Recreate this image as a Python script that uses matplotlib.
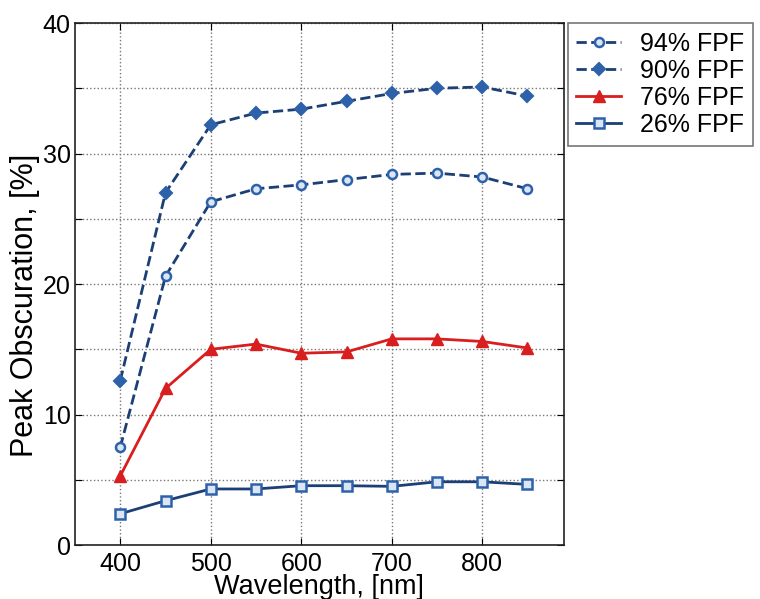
import numpy as np
import matplotlib.pyplot as plt

plt.rcParams['font.family'] = ['Liberation Sans', 'DejaVu Sans']

wavelength = [400, 450, 500, 550, 600, 650, 700, 750, 800, 850]
fpf94 = [7.5, 20.6, 26.3, 27.3, 27.6, 28.0, 28.4, 28.5, 28.2, 27.3]
fpf90 = [12.6, 27.0, 32.2, 33.1, 33.4, 34.0, 34.6, 35.0, 35.1, 34.4]
fpf76 = [5.3, 12.0, 15.0, 15.4, 14.7, 14.8, 15.8, 15.8, 15.6, 15.1]
fpf26 = [2.4, 3.4, 4.3, 4.3, 4.55, 4.55, 4.5, 4.85, 4.85, 4.65]

blue = '#1c3f75'
light = '#2d62ab'
red = '#d81e1e'

fig = plt.figure(figsize=(7.6, 5.99), dpi=100)
ax = fig.add_axes([0.0987, 0.090, 0.643, 0.8716])

ax.plot(wavelength, fpf94, '--', color=blue, lw=2, marker='o', ms=6.5,
        mfc='#dbe6f4', mec=light, mew=1.8, label='94% FPF')
ax.plot(wavelength, fpf90, '--', color=blue, lw=2, marker='D', ms=6.5,
        mfc=light, mec=light, mew=1.5, label='90% FPF')
ax.plot(wavelength, fpf76, '-', color=red, lw=2, marker='^', ms=8,
        mfc=red, mec=red, label='76% FPF')
ax.plot(wavelength, fpf26, '-', color=blue, lw=2, marker='s', ms=6.5,
        mfc='#dbe6f4', mec=light, mew=1.8, label='26% FPF')

ax.set_xlim(350, 890)
ax.set_ylim(0, 40)
ax.set_xticks([400, 500, 600, 700, 800])
yt = np.arange(0, 41, 5)
ax.set_yticks(yt)
ax.set_yticklabels([str(v) if v % 10 == 0 else '' for v in yt])
ax.tick_params(direction='in', top=True, right=True, labelsize=18, length=5)
ax.tick_params(axis='y', pad=3)
ax.tick_params(axis='x', pad=5)
ax.grid(True, linestyle=':', color='#777777', lw=1)

ax.set_xlabel('Wavelength, [nm]', fontsize=19.5, labelpad=-1.5)
ax.set_ylabel('Peak Obscuration, [%]', fontsize=22)
ax.yaxis.set_label_coords(-0.071, 0.46)

for s in ax.spines.values():
    s.set_color('#222222')
    s.set_linewidth(1.2)

leg = ax.legend(loc='upper left', bbox_to_anchor=(1.008, 1.0), borderaxespad=0,
                fancybox=False, edgecolor='#555555', fontsize=18,
                handlelength=1.8, labelspacing=0.12, borderpad=0.35,
                handletextpad=0.75)
leg.get_frame().set_linewidth(1.2)

fig.savefig('out.png', dpi=100)
